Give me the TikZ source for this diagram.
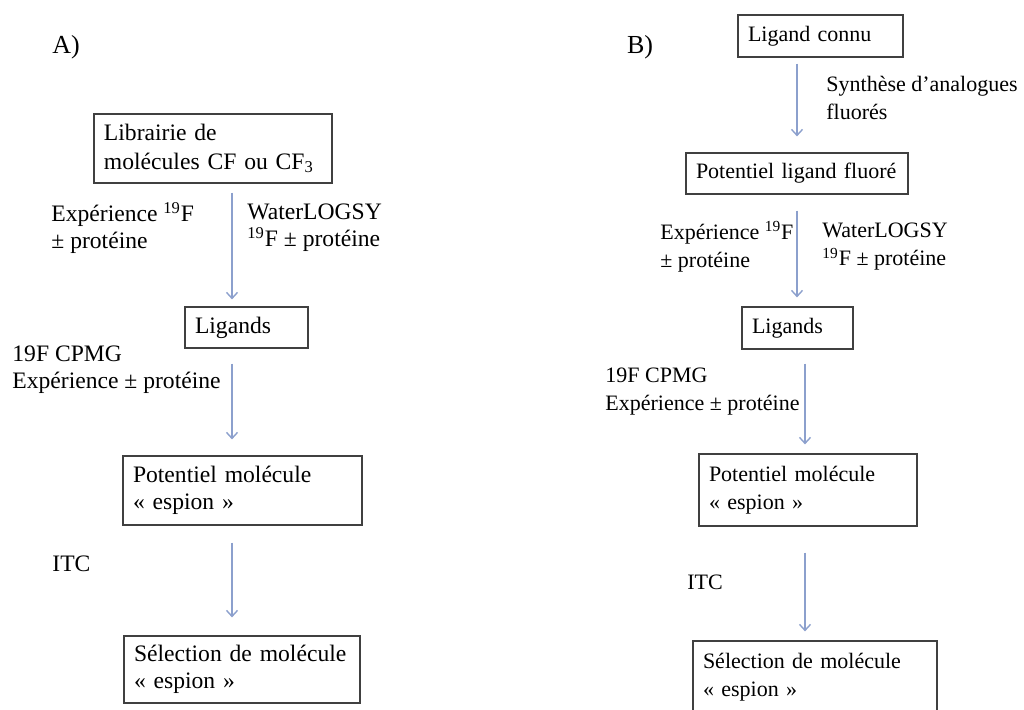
\documentclass[tikz,border=0pt]{standalone}
\usepackage{fontspec}
\setmainfont{Liberation Serif}
\usetikzlibrary{arrows.meta,positioning,calc}
\definecolor{flowblue}{RGB}{140,160,205}

\begin{document}
\begin{tikzpicture}[
    x=0.5pt, y=-0.5pt,
    font=\fontsize{11.8}{13.5}\selectfont,
    bfont/.style={font=\fontsize{11}{14}\selectfont},
    fbox/.style={draw=black!75, line width=0.6pt, inner xsep=5pt, inner ysep=0pt, align=left},
    lbl/.style={anchor=west, inner sep=0pt, align=left},
    fl/.style={-{Straight Barb[length=3pt,width=5.5pt]}, line width=0.7pt, flowblue}
  ]
    \useasboundingbox (0,0) rectangle (1024,709);
    \clip (0,0) rectangle (1024,709);

    % panel A
    \node[font=\fontsize{13}{15}\selectfont] (tA) at (66,47) {A)};
    \node[fbox, text width=109pt, minimum height=34.5pt, font=\fontsize{11.8}{14.5}\selectfont] (lib) at (213,148.5)
      {Librairie de\\molécules CF ou CF\textsubscript{3}};
    \node[fbox, text width=51.5pt, minimum height=20.5pt] (ligA) at (246.5,327.5) {Ligands};
    \node[fbox, text width=109.5pt, minimum height=34.5pt] (potA) at (242.5,490.5)
      {Potentiel molécule\\« espion »};
    \node[fbox, text width=108pt, minimum height=33.5pt] (selA) at (242,669.5)
      {Sélection de molécule\\« espion »};

    \node[lbl] (expA) at (51,228) {Expérience \textsuperscript{19}F\\ ± protéine};
    \node[lbl] (wlA) at (247,228) {WaterLOGSY\\\textsuperscript{19}F ± protéine};
    \node[lbl] (cpA) at (12,370) {19F CPMG\\Expérience ± protéine};
    \node[lbl] (itcA) at (52,564) {ITC};

    \coordinate (xa) at (232,0);
    \draw[fl] ($(lib.south -| xa)+(0,9)$) -- ($(ligA.north -| xa)+(0,-7)$);
    \draw[fl] ($(ligA.south -| xa)+(0,15)$) -- ($(potA.north -| xa)+(0,-16)$);
    \draw[fl] ($(potA.south -| xa)+(0,17)$) -- ($(selA.north -| xa)+(0,-18)$);

    % panel B
    \node[font=\fontsize{13}{15}\selectfont] (tB) at (640,47) {B)};
    \node[fbox, bfont, text width=72.5pt, minimum height=21pt] (conB) at (820.5,36) {Ligand connu};
    \node[fbox, bfont, text width=101pt, minimum height=20.5pt] (fluB) at (797,173.5) {Potentiel ligand fluoré};
    \node[fbox, bfont, text width=45.5pt, minimum height=21pt] (ligB) at (797.5,328) {Ligands};
    \node[fbox, bfont, text width=99pt, minimum height=36pt] (potB) at (808,490)
      {Potentiel molécule\\« espion »};
    \node[fbox, bfont, text width=112pt, minimum height=36pt] (selB) at (815,677)
      {Sélection de molécule\\« espion »};

    \node[lbl, bfont] (synB) at (826,98) {Synthèse d’analogues\\fluorés};
    \node[lbl, bfont] (expB) at (660,247) {Expérience \textsuperscript{19}F\\ ± protéine};
    \node[lbl, bfont] (wlB) at (822,247) {WaterLOGSY\\\textsuperscript{19}F ± protéine};
    \node[lbl, bfont] (cpB) at (605,392) {19F CPMG\\Expérience ± protéine};
    \node[lbl, bfont] (itcB) at (687,582) {ITC};

    \coordinate (xb) at (797,0);
    \coordinate (xc) at (805,0);
    \draw[fl] ($(conB.south -| xb)+(0,6)$) -- ($(fluB.north -| xb)+(0,-16)$);
    \draw[fl] ($(fluB.south -| xb)+(0,16)$) -- ($(ligB.north -| xb)+(0,-9)$);
    \draw[fl] ($(ligB.south -| xc)+(0,14)$) -- ($(potB.north -| xc)+(0,-9)$);
    \draw[fl] ($(potB.south -| xc)+(0,26)$) -- ($(selB.north -| xc)+(0,-9)$);

  \end{tikzpicture}
\end{document}
